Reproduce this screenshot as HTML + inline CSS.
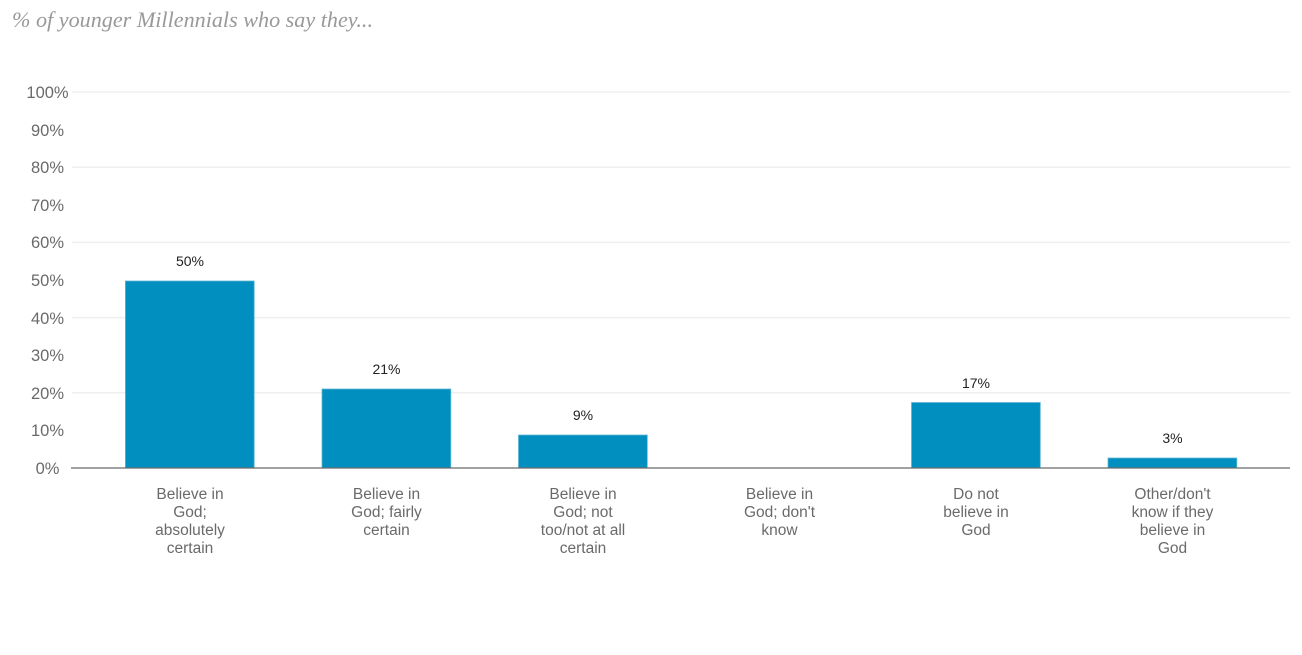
<!DOCTYPE html>
<html>
<head>
<meta charset="utf-8">
<style>
  html, body { margin: 0; padding: 0; background: #fff; }
  body { width: 1302px; height: 655px; overflow: hidden; }
  svg { display: block; }
  .tick { font-family: "Liberation Sans", sans-serif; font-size: 16.5px; fill: #6a6a6a; }
  .cat { font-family: "Liberation Sans", sans-serif; font-size: 15.5px; fill: #6a6a6a; }
  .val { font-family: "Liberation Sans", sans-serif; font-size: 14px; fill: #222; }
  .title { font-family: "Liberation Serif", serif; font-style: italic; font-size: 22px; fill: #999; }
</style>
</head>
<body>
<svg width="1302" height="655" viewBox="0 0 1302 655" xmlns="http://www.w3.org/2000/svg">
  <text class="title" x="12" y="27" textLength="361" lengthAdjust="spacingAndGlyphs">% of younger Millennials who say they...</text>

  <!-- gridlines -->
  <g stroke="#efefef" stroke-width="1.5">
    <line x1="72" x2="1290" y1="92" y2="92"/>
    <line x1="72" x2="1290" y1="167.2" y2="167.2"/>
    <line x1="72" x2="1290" y1="242.4" y2="242.4"/>
    <line x1="72" x2="1290" y1="317.6" y2="317.6"/>
    <line x1="72" x2="1290" y1="392.8" y2="392.8"/>
  </g>

  <!-- y tick labels -->
  <g class="tick" text-anchor="middle">
    <text x="47.5" y="98">100%</text>
    <text x="47.5" y="136">90%</text>
    <text x="47.5" y="173">80%</text>
    <text x="47.5" y="211">70%</text>
    <text x="47.5" y="248">60%</text>
    <text x="47.5" y="286">50%</text>
    <text x="47.5" y="324">40%</text>
    <text x="47.5" y="361">30%</text>
    <text x="47.5" y="399">20%</text>
    <text x="47.5" y="436">10%</text>
    <text x="47.5" y="474">0%</text>
  </g>

  <!-- bars -->
  <g fill="#008fbf" stroke="#5fb6d6" stroke-width="0.8">
    <rect x="125.4" y="281" width="128.8" height="187"/>
    <rect x="322" y="389" width="128.8" height="79"/>
    <rect x="518.5" y="435" width="128.8" height="33"/>
    <rect x="911.5" y="402.5" width="128.8" height="65.5"/>
    <rect x="1108" y="458" width="128.8" height="10"/>
  </g>

  <!-- axis -->
  <line x1="71" x2="1290" y1="468" y2="468" stroke="#6b6b6b" stroke-width="1.3"/>

  <!-- value labels -->
  <g class="val" text-anchor="middle">
    <text x="190" y="266">50%</text>
    <text x="386.5" y="374">21%</text>
    <text x="583" y="420">9%</text>
    <text x="976" y="388">17%</text>
    <text x="1172.5" y="443">3%</text>
  </g>

  <!-- category labels -->
  <g class="cat" text-anchor="middle">
    <text x="190" y="499">Believe in</text>
    <text x="190" y="517">God;</text>
    <text x="190" y="535">absolutely</text>
    <text x="190" y="553">certain</text>

    <text x="386.5" y="499">Believe in</text>
    <text x="386.5" y="517">God; fairly</text>
    <text x="386.5" y="535">certain</text>

    <text x="583" y="499">Believe in</text>
    <text x="583" y="517">God; not</text>
    <text x="583" y="535">too/not at all</text>
    <text x="583" y="553">certain</text>

    <text x="779.5" y="499">Believe in</text>
    <text x="779.5" y="517">God; don't</text>
    <text x="779.5" y="535">know</text>

    <text x="976" y="499">Do not</text>
    <text x="976" y="517">believe in</text>
    <text x="976" y="535">God</text>

    <text x="1172.5" y="499">Other/don't</text>
    <text x="1172.5" y="517">know if they</text>
    <text x="1172.5" y="535">believe in</text>
    <text x="1172.5" y="553">God</text>
  </g>
</svg>
</body>
</html>
